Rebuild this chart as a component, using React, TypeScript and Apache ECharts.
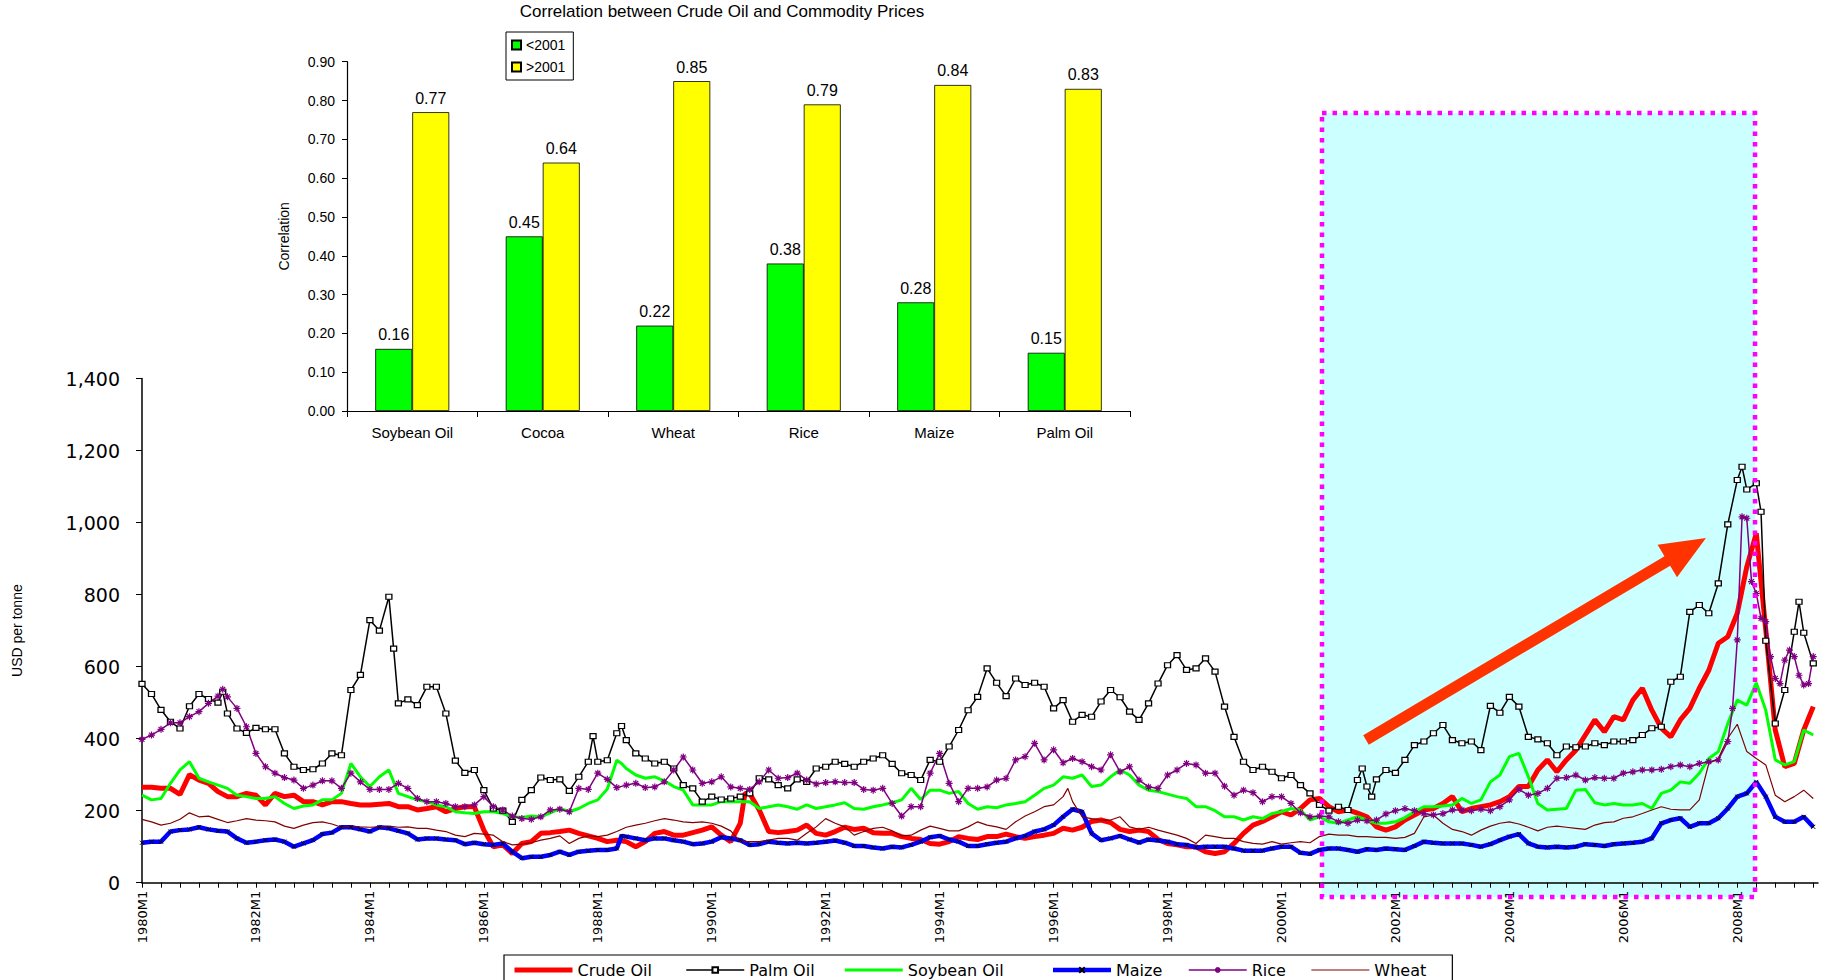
import React, { useEffect, useRef } from "react";
import * as echarts from "echarts";

// ---------- DATA ----------
const START_YEAR = 1980;
const N_MONTHS = 354; // 1980M1 .. 2009M6
const monthLabels: string[] = [];
for (let i = 0; i < N_MONTHS; i++) {
  monthLabels.push(`${START_YEAR + Math.floor(i / 12)}M${(i % 12) + 1}`);
}

const yTicks = [0, 200, 400, 600, 800, 1000, 1200, 1400];

// [month index, USD per tonne]
const crudeOil: [number, number][] = [
  [0,265],[2,265],[4,262],[6,262],[8,245],[10,300],[12,285],[14,276],[16,253],[18,239],[20,239],[22,248],[24,243],[26,216],[28,248],[30,239],[32,243],[34,225],[36,225],[38,216],[40,225],[42,225],[44,220],[46,216],[48,216],[50,218],[52,220],[54,211],[56,211],[58,202],[60,206],
  [62,211],[64,197],[66,206],[68,211],[70,211],[72,146],[74,100],[76,105],[78,81],[80,109],[82,114],[84,137],[86,139],[88,142],[90,146],[92,137],[94,130],[96,123],[98,114],[100,118],[102,114],[104,100],[106,114],[108,137],[110,142],[112,132],[114,132],[116,139],[118,146],[120,155],[122,132],
  [124,114],[126,165],[127,248],[128,248],[130,202],[132,142],[134,139],[136,142],[138,146],[140,160],[142,137],[144,132],[146,142],[148,154],[150,148],[152,151],[154,139],[156,137],[158,137],[160,128],[162,123],[164,120],[166,109],[168,107],[170,114],[172,128],[174,123],[176,120],[178,128],[180,128],[182,135],[184,128],
  [186,123],[188,128],[190,132],[192,137],[194,151],[196,146],[198,154],[200,170],[202,174],[204,167],[206,148],[208,142],[210,146],[212,142],[214,120],[216,109],[218,105],[220,100],[222,100],[224,86],[226,81],[228,86],[230,109],[232,137],[234,160],[236,170],[238,183],[240,197],[242,188],[244,206],[246,230],[248,234],
  [250,211],[252,197],[254,202],[256,193],[258,183],[260,155],[262,146],[264,155],[266,174],[268,188],[270,202],[272,206],[274,220],[276,239],[278,197],[280,206],[282,211],[284,216],[286,225],[288,239],[290,267],[292,267],[294,313],[296,341],[298,308],[300,341],[302,368],[304,410],[306,452],[308,419],[310,461],
  [312,452],[314,507],[316,540],[318,479],[320,429],[322,405],[324,452],[326,484],[328,540],[330,590],[332,665],[334,683],[336,748],[338,877],[340,970],[342,702],[344,424],[346,322],[348,331],[350,424],[352,489]
];

const palmOil: [number, number][] = [
  [0,552],[2,524],[4,480],[6,447],[8,428],[10,490],[12,524],[14,510],[16,500],[17,530],[18,470],[20,428],[22,416],[24,430],[26,426],[28,426],[30,359],[32,322],[34,313],[36,315],[38,331],[40,359],[42,354],[44,535],[46,577],[48,729],[50,700],[52,794],[53,650],[54,498],[56,509],[58,493],[60,544],
  [62,544],[64,470],[66,339],[68,305],[70,313],[72,257],[74,206],[76,200],[78,169],[80,230],[82,257],[84,292],[86,285],[88,287],[90,255],[92,294],[94,336],[95,407],[96,336],[98,340],[100,415],[101,435],[102,396],[104,359],[106,345],[108,331],[110,336],[112,317],[114,271],[116,262],[118,225],[120,239],[122,231],
  [124,234],[126,239],[128,248],[130,290],[132,287],[134,271],[136,262],[138,287],[140,280],[142,317],[144,322],[146,336],[148,330],[150,322],[152,336],[154,345],[156,354],[158,330],[160,304],[162,299],[164,285],[166,341],[168,336],[170,378],[172,424],[174,479],[176,516],[178,595],[180,555],[182,518],[184,567],
  [186,549],[188,555],[190,544],[192,484],[194,507],[196,447],[198,466],[200,461],[202,503],[204,535],[206,515],[208,475],[210,452],[212,498],[214,553],[216,604],[218,632],[220,591],[222,595],[224,623],[226,586],[228,489],[230,405],[232,336],[234,313],[236,322],[238,308],[240,290],[242,299],[244,271],[246,248],[248,216],
  [250,200],[252,211],[254,202],[256,285],[257,317],[258,267],[259,239],[260,287],[262,313],[264,305],[266,341],[268,382],[270,392],[272,415],[274,438],[276,396],[278,387],[280,392],[282,368],[284,491],[286,472],[288,516],[290,489],[292,405],[294,398],[296,387],[298,354],[300,378],[302,376],[304,378],[306,387],[308,382],[310,392],
  [312,392],[314,396],[316,410],[318,429],[320,433],[322,558],[324,572],[326,752],[328,771],[330,748],[332,831],[334,995],[336,1118],[337,1155],[338,1092],[340,1109],[341,1030],[342,672],[344,442],[346,535],[348,697],[349,780],[350,694],[352,609]
];

const soybeanOil: [number, number][] = [
  [0,243],[2,230],[4,234],[6,276],[8,313],[10,336],[12,290],[14,280],[16,271],[18,262],[20,243],[22,239],[24,234],[26,234],[28,239],[30,220],[32,206],[34,213],[36,216],[38,230],[40,230],[42,248],[44,331],[46,294],[48,267],[50,294],[52,313],[54,248],[56,239],[58,230],[60,225],
  [62,216],[64,211],[66,197],[68,194],[70,192],[72,197],[74,197],[76,192],[78,183],[80,181],[82,185],[84,183],[86,194],[88,206],[90,197],[92,206],[94,220],[96,230],[98,260],[100,340],[101,331],[102,317],[104,299],[106,290],[108,294],[110,283],[112,267],[114,257],[116,216],[118,216],[120,216],[122,225],
  [124,225],[126,225],[128,225],[130,206],[132,211],[134,216],[136,211],[138,204],[140,216],[142,206],[144,211],[146,216],[148,222],[150,206],[152,204],[154,211],[156,216],[158,222],[160,230],[162,262],[164,231],[166,257],[168,257],[170,248],[172,253],[174,220],[176,204],[178,211],[180,208],[182,216],[184,220],
  [186,225],[188,243],[190,262],[192,271],[194,294],[196,290],[198,299],[200,267],[202,271],[204,294],[206,313],[208,299],[210,271],[212,257],[214,253],[216,246],[218,239],[220,234],[222,211],[224,211],[226,200],[228,183],[230,183],[232,174],[234,183],[236,178],[238,192],[240,197],[242,206],[244,202],[246,174],[248,183],
  [250,169],[252,165],[254,174],[256,183],[258,174],[260,165],[262,165],[264,169],[266,181],[268,197],[270,211],[272,211],[274,213],[276,216],[278,234],[280,220],[282,230],[284,280],[286,299],[288,350],[290,359],[292,294],[294,220],[296,202],[298,204],[300,206],[302,257],[304,259],[306,222],[308,216],[310,220],
  [312,216],[314,216],[316,220],[318,206],[320,248],[322,257],[324,280],[326,276],[328,304],[330,345],[332,364],[334,442],[336,507],[338,493],[340,555],[342,479],[344,341],[346,327],[348,336],[350,424],[352,410]
];

const maize: [number, number][] = [
  [0,111],[2,114],[4,114],[6,142],[8,146],[10,148],[12,154],[14,148],[16,144],[18,142],[20,123],[22,111],[24,114],[26,118],[28,120],[30,114],[32,100],[34,109],[36,118],[38,135],[40,139],[42,154],[44,154],[46,148],[48,142],[50,154],[52,151],[54,144],[56,137],[58,120],[60,123],
  [62,123],[64,120],[66,118],[68,107],[70,111],[72,107],[74,105],[76,109],[78,86],[80,68],[82,72],[84,72],[86,77],[88,86],[90,77],[92,86],[94,89],[96,91],[98,91],[100,95],[101,130],[102,128],[104,123],[106,118],[108,123],[110,123],[112,118],[114,114],[116,107],[118,109],[120,114],[122,126],
  [124,123],[126,118],[128,105],[130,107],[132,114],[134,111],[136,109],[138,111],[140,109],[142,111],[144,114],[146,117],[148,111],[150,102],[152,102],[154,98],[156,95],[158,100],[160,98],[162,105],[164,114],[166,126],[168,130],[170,120],[172,114],[174,102],[176,102],[178,107],[180,111],[182,114],[184,123],
  [186,130],[188,142],[190,148],[192,160],[194,183],[196,204],[198,197],[200,137],[202,118],[204,123],[206,130],[208,120],[210,111],[212,120],[214,117],[216,114],[218,107],[220,105],[222,98],[224,100],[226,100],[228,100],[230,95],[232,89],[234,89],[236,89],[238,95],[240,100],[242,100],[244,83],[246,80],[248,91],
  [250,95],[252,95],[254,91],[256,86],[258,93],[260,91],[262,95],[264,93],[266,91],[268,102],[270,114],[272,111],[274,109],[276,109],[278,109],[280,105],[282,100],[284,107],[286,118],[288,128],[290,135],[292,109],[294,100],[296,98],[298,100],[300,98],[302,100],[304,107],[306,105],[308,102],[310,107],
  [312,109],[314,111],[316,114],[318,123],[320,165],[322,174],[324,179],[326,155],[328,165],[330,165],[332,179],[334,206],[336,239],[338,248],[340,280],[342,239],[344,183],[346,169],[348,169],[350,183],[352,155]
];

const rice: [number, number][] = [
  [0,398],[2,410],[4,426],[6,444],[8,444],[10,461],[12,475],[14,498],[16,518],[17,537],[18,516],[20,484],[22,433],[24,359],[26,322],[28,304],[30,292],[32,285],[34,262],[36,271],[38,283],[40,283],[42,262],[44,304],[46,280],[48,259],[50,259],[52,259],[54,276],[56,262],[58,234],[60,225],
  [62,225],[64,220],[66,211],[68,211],[70,216],[72,239],[74,211],[76,202],[78,185],[80,178],[82,176],[84,183],[86,202],[88,204],[90,197],[92,262],[94,259],[96,304],[98,287],[100,264],[102,271],[104,276],[106,264],[108,266],[110,280],[112,313],[114,349],[116,313],[118,276],[120,280],[122,294],
  [124,266],[126,262],[128,259],[130,280],[132,313],[134,290],[136,292],[138,304],[140,285],[142,274],[144,278],[146,280],[148,278],[150,278],[152,259],[154,257],[156,262],[158,220],[160,185],[162,211],[164,211],[166,304],[168,359],[170,276],[172,225],[174,262],[176,262],[178,266],[180,285],[182,290],[184,341],
  [186,350],[188,387],[190,341],[192,369],[194,333],[196,345],[198,336],[200,322],[202,313],[204,355],[206,308],[208,322],[210,285],[212,266],[214,262],[216,299],[218,313],[220,331],[222,327],[224,304],[226,304],[228,268],[230,243],[232,257],[234,250],[236,225],[238,239],[240,239],[242,220],[244,194],[246,183],[248,185],
  [250,183],[252,169],[254,165],[256,174],[258,172],[260,174],[262,191],[264,200],[266,206],[268,200],[270,192],[272,188],[274,192],[276,202],[278,202],[280,200],[282,204],[284,200],[286,211],[288,230],[290,259],[292,243],[294,248],[296,262],[298,290],[300,292],[302,299],[304,285],[306,292],[308,290],[310,290],
  [312,304],[314,308],[316,313],[318,313],[320,315],[322,322],[324,327],[326,322],[328,331],[330,336],[332,341],[334,392],[335,484],[336,674],[337,1016],[338,1012],[339,836],[340,803],[341,734],[342,725],[343,628],[344,567],[345,553],[346,618],[347,646],[348,628],[349,576],[350,549],[351,553],[352,628]
];

const wheat: [number, number][] = [
  [0,176],[2,169],[4,160],[6,165],[8,176],[10,194],[12,183],[14,185],[16,176],[18,167],[20,172],[22,178],[24,174],[26,172],[28,169],[30,157],[32,151],[34,160],[36,167],[38,169],[40,163],[42,154],[44,157],[46,155],[48,154],[50,155],[52,157],[54,154],[56,155],[58,151],[60,151],
  [62,146],[64,142],[66,132],[68,128],[70,137],[72,135],[74,132],[76,114],[78,105],[80,107],[82,111],[84,118],[86,123],[88,130],[90,109],[92,123],[94,130],[96,128],[98,132],[100,142],[102,154],[104,160],[106,165],[108,172],[110,178],[112,174],[114,169],[116,167],[118,169],[120,165],[122,157],
  [124,144],[126,114],[128,114],[130,114],[132,118],[134,123],[136,123],[138,118],[140,137],[142,155],[144,178],[146,165],[148,155],[150,132],[152,142],[154,151],[156,154],[158,144],[160,130],[162,132],[164,146],[166,157],[168,151],[170,144],[172,144],[174,155],[176,169],[178,160],[180,155],[182,148],[184,169],
  [186,185],[188,197],[190,211],[192,216],[194,239],[195,262],[196,225],[198,183],[200,178],[202,174],[204,174],[206,183],[208,155],[210,148],[212,154],[214,146],[216,139],[218,132],[220,123],[222,109],[224,132],[226,128],[228,123],[230,123],[232,114],[234,109],[236,107],[238,114],[240,107],[242,111],[244,114],[246,111],[248,128],
  [250,135],[252,132],[254,132],[256,128],[258,128],[260,126],[262,126],[264,123],[266,126],[268,137],[270,183],[272,188],[274,165],[276,148],[278,142],[280,132],[282,146],[284,157],[286,165],[288,169],[290,163],[292,154],[294,144],[296,154],[298,157],[300,154],[302,151],[304,148],[306,160],[308,167],[310,169],
  [312,179],[314,183],[316,192],[318,202],[320,211],[322,204],[324,202],[326,202],[328,230],[330,331],[332,345],[334,401],[336,440],[338,364],[340,345],[342,327],[344,243],[346,225],[348,239],[350,257],[352,234]
];

const barCategories = ["Soybean Oil", "Cocoa", "Wheat", "Rice", "Maize", "Palm Oil"];
const corrBefore2001 = [0.16, 0.45, 0.22, 0.38, 0.28, 0.15];
const corrAfter2001 = [0.77, 0.64, 0.85, 0.79, 0.84, 0.83];

const legendNames = ["Crude Oil", "Palm Oil", "Soybean Oil", "Maize", "Rice", "Wheat"];
const legendTextWidths = [94, 80, 129, 58, 45, 70];

// ---------- STYLE ----------
const ASTERISK = "path://M5,0L5,10M0,5L10,5M1.5,1.5L8.5,8.5M8.5,1.5L1.5,8.5";
const XMARK = "path://M0,0L10,10M10,0L0,10";
const BASE_FONT = "Liberation Sans, Arial, sans-serif";
const HIDDEN_ITEM = { color: "rgba(0,0,0,0)", borderColor: "rgba(0,0,0,0)", borderWidth: 0 };

export default function App() {
  const ref = useRef<HTMLDivElement>(null);

  useEffect(() => {
    if (!ref.current) return;
    const chart = echarts.init(ref.current, null, { renderer: "svg" });

    const lineBase: any = {
      type: "line",
      xAxisIndex: 0,
      yAxisIndex: 0,
      showAllSymbol: true,
      emphasis: { disabled: true },
      animation: false,
    };

    // arrow geometry
    const tip = [1706, 538];
    const tail = [1366, 740];
    const dx = tip[0] - tail[0];
    const dy = tip[1] - tail[1];
    const len = Math.sqrt(dx * dx + dy * dy);
    const ux = dx / len, uy = dy / len;
    const headLen = 45, headHalf = 19;
    const base = [tip[0] - headLen * ux, tip[1] - headLen * uy];
    const px = -uy, py = ux;

    const legendRich: any = {};
    legendTextWidths.forEach((w, i) => {
      legendRich["t" + i] = {
        width: w,
        fontFamily: "DejaVu Sans",
        fontSize: 16,
        color: "#000",
        backgroundColor: "rgba(255,255,255,0)",
      };
    });

    const option: any = {
      animation: false,
      backgroundColor: "#ffffff",
      textStyle: { fontFamily: BASE_FONT, color: "#000" },
      graphic: [
        {
          type: "rect", z: -5, silent: true,
          shape: { x: 1322, y: 113, width: 433, height: 784 },
          style: { fill: "#CCFFFF" },
        },
        {
          type: "rect", z: 50, silent: true,
          shape: { x: 1322, y: 113, width: 433, height: 784 },
          style: { fill: "none", stroke: "#FF00FF", lineWidth: 4.5, lineDash: [4.5, 6] },
        },
        {
          type: "line", z: 60, silent: true,
          shape: { x1: tail[0], y1: tail[1], x2: base[0] + 2 * ux, y2: base[1] + 2 * uy },
          style: { stroke: "#FF3300", lineWidth: 11 },
        },
        {
          type: "polygon", z: 60, silent: true,
          shape: {
            points: [
              [tip[0], tip[1]],
              [base[0] + headHalf * px, base[1] + headHalf * py],
              [base[0] - headHalf * px, base[1] - headHalf * py],
            ],
          },
          style: { fill: "#FF3300" },
        },
        {
          type: "text", z: 60, silent: true,
          x: 722, y: 3,
          style: {
            text: "Correlation between Crude Oil and Commodity Prices",
            font: `17px ${BASE_FONT}`,
            fill: "#000",
            textAlign: "center",
            textVerticalAlign: "top",
            verticalAlign: "top",
          },
        },
      ],
      legend: [
        {
          data: legendNames,
          left: 504,
          top: 955,
          orient: "horizontal",
          itemWidth: 58,
          itemHeight: 7,
          itemGap: 14,
          padding: [7, 8, 7, 8],
          borderColor: "#000",
          borderWidth: 1.2,
          lineStyle: { width: "inherit" },
          formatter: (name: string) => `{t${legendNames.indexOf(name)}|${name}}`,
          textStyle: { fontFamily: "DejaVu Sans", fontSize: 16, color: "#000", rich: legendRich },
          selectedMode: false,
        },
        {
          data: ["<2001", ">2001"],
          left: 506,
          top: 32,
          orient: "vertical",
          icon: "rect",
          itemWidth: 9,
          itemHeight: 9,
          itemGap: 8,
          padding: [6, 8, 6, 5],
          borderColor: "#000",
          borderWidth: 1,
          textStyle: { fontFamily: BASE_FONT, fontSize: 14, color: "#000" },
          selectedMode: false,
        },
      ],
      grid: [
        { left: 142, right: 8, top: 378.5, bottom: 97.3, containLabel: false },
        { left: 347, width: 783, top: 61.7, height: 349.3, containLabel: false },
      ],
      xAxis: [
        {
          type: "category",
          gridIndex: 0,
          data: monthLabels,
          boundaryGap: false,
          axisLine: { lineStyle: { color: "#000", width: 1.5 } },
          axisTick: { show: true, interval: 3, length: 5, lineStyle: { color: "#000", width: 1 } },
          axisLabel: {
            interval: 23,
            rotate: 90,
            margin: 8,
            fontFamily: "DejaVu Sans",
            fontSize: 13,
            color: "#000",
          },
          splitLine: { show: false },
        },
        {
          type: "category",
          gridIndex: 1,
          data: barCategories,
          axisLine: { lineStyle: { color: "#000", width: 1.2 } },
          axisTick: { show: true, length: 6, lineStyle: { color: "#000" } },
          axisLabel: { fontFamily: BASE_FONT, fontSize: 15, color: "#000", margin: 14 },
          splitLine: { show: false },
        },
      ],
      yAxis: [
        {
          type: "value",
          gridIndex: 0,
          min: yTicks[0],
          max: yTicks[yTicks.length - 1],
          interval: 200,
          axisLine: { show: true, lineStyle: { color: "#000", width: 1.5 } },
          axisTick: { show: true, length: 6, lineStyle: { color: "#000" } },
          axisLabel: {
            margin: 22,
            fontFamily: "DejaVu Sans",
            fontSize: 19,
            color: "#000",
            formatter: (v: number) => v.toLocaleString("en-US"),
          },
          splitLine: { show: false },
          name: "USD per tonne",
          nameLocation: "middle",
          nameGap: 118,
          nameRotate: 90,
          nameTextStyle: { fontFamily: BASE_FONT, fontSize: 14, color: "#000" },
        },
        {
          type: "value",
          gridIndex: 1,
          min: 0,
          max: 0.9,
          interval: 0.1,
          axisLine: { show: true, lineStyle: { color: "#000", width: 1.2 } },
          axisTick: { show: true, length: 5, lineStyle: { color: "#000" } },
          axisLabel: {
            margin: 12,
            fontFamily: BASE_FONT,
            fontSize: 14,
            color: "#000",
            formatter: (v: number) => v.toFixed(2),
          },
          splitLine: { show: false },
          name: "Correlation",
          nameLocation: "middle",
          nameGap: 56,
          nameRotate: 90,
          nameTextStyle: { fontFamily: BASE_FONT, fontSize: 14, color: "#000" },
        },
      ],
      series: [
        {
          ...lineBase,
          name: "Crude Oil",
          data: crudeOil,
          symbol: "none",
          lineStyle: { color: "#FF0000", width: 5 },
          itemStyle: HIDDEN_ITEM,
        },
        {
          ...lineBase,
          name: "Palm Oil",
          data: palmOil,
          symbol: "rect",
          symbolSize: [6, 5],
          lineStyle: { color: "#000000", width: 1.5 },
          itemStyle: { color: "#ffffff", borderColor: "#000000", borderWidth: 1.2 },
        },
        {
          ...lineBase,
          name: "Soybean Oil",
          data: soybeanOil,
          symbol: "none",
          lineStyle: { color: "#00FF00", width: 3 },
          itemStyle: HIDDEN_ITEM,
        },
        {
          ...lineBase,
          name: "Maize",
          data: maize,
          symbol: XMARK,
          symbolSize: 4,
          lineStyle: { color: "#0000FF", width: 4.5 },
          itemStyle: { color: "#000000", borderColor: "#000000", borderWidth: 1 },
        },
        {
          ...lineBase,
          name: "Rice",
          data: rice,
          symbol: ASTERISK,
          symbolSize: 7,
          lineStyle: { color: "#800080", width: 1.5 },
          itemStyle: { color: "#800080", borderColor: "#800080", borderWidth: 1.2 },
        },
        {
          ...lineBase,
          name: "Wheat",
          data: wheat,
          symbol: "none",
          lineStyle: { color: "#800000", width: 1.2 },
          itemStyle: HIDDEN_ITEM,
        },
        {
          type: "bar",
          name: "<2001",
          xAxisIndex: 1,
          yAxisIndex: 1,
          data: corrBefore2001,
          barWidth: 37,
          barGap: "0%",
          itemStyle: { color: "#00FF00", borderColor: "#000", borderWidth: 0.8 },
          label: {
            show: true,
            position: "top",
            distance: 6,
            fontFamily: BASE_FONT,
            fontSize: 16,
            color: "#000",
            formatter: (p: any) => Number(p.value).toFixed(2),
          },
          emphasis: { disabled: true },
        },
        {
          type: "bar",
          name: ">2001",
          xAxisIndex: 1,
          yAxisIndex: 1,
          data: corrAfter2001,
          barWidth: 37,
          barGap: "0%",
          itemStyle: { color: "#FFFF00", borderColor: "#000", borderWidth: 0.8 },
          label: {
            show: true,
            position: "top",
            distance: 6,
            fontFamily: BASE_FONT,
            fontSize: 16,
            color: "#000",
            formatter: (p: any) => Number(p.value).toFixed(2),
          },
          emphasis: { disabled: true },
        },
      ],
    };

    chart.setOption(option);
    return () => chart.dispose();
  }, []);

  return (
    <div
      ref={ref}
      style={{ position: "absolute", left: 0, top: 0, width: 1826, height: 980, background: "#fff" }}
    />
  );
}
